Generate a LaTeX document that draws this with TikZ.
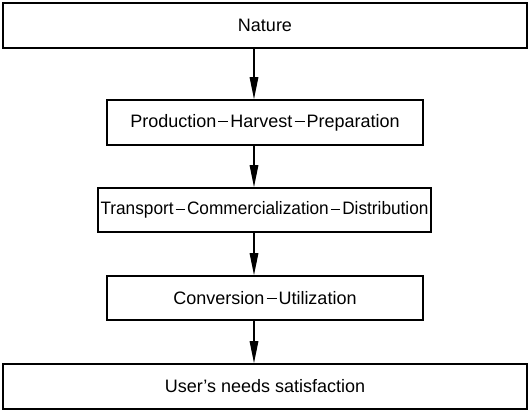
\documentclass[tikz,border=0pt]{standalone}
\usepackage{fontspec}
\usepackage{graphicx}
\setmainfont{Liberation Sans}
\usetikzlibrary{arrows.meta}
\newcommand{\dsh}{\kern2pt\rule[5pt]{10pt}{1.05pt}\kern2pt}
\begin{document}
\begin{tikzpicture}[x=1pt,y=-1pt,
  stepbox/.style={draw, line width=1.6pt, rectangle, inner sep=0pt,
    font=\fontsize{18}{21}\selectfont},
  flow/.style={line width=1.5pt, -{Triangle[length=22pt,width=8.5pt]}}]
\useasboundingbox (0,0) rectangle (531,412);
\fill[white] (0,0) rectangle (531,412);
\node[stepbox, minimum width=524pt, minimum height=45pt] (nat) at (265,25.5) {Nature};
\node[stepbox, minimum width=316pt, minimum height=45pt] (prod) at (265,122.5) {Production\dsh Harvest\dsh Preparation};
\node[stepbox, minimum width=333pt, minimum height=44pt] (trans) at (264.5,210) {\resizebox{328pt}{\height}{Transport\dsh Commercialization\dsh Distribution}};
\node[stepbox, minimum width=316pt, minimum height=44pt] (conv) at (265,298) {Conversion\dsh Utilization};
\node[stepbox, minimum width=524pt, minimum height=45pt] (user) at (265,386.5) {User's needs satisfaction};
\coordinate (ax) at (254,0);
\draw[flow] (nat.south -| ax) -- (prod.north -| ax);
\draw[flow] (prod.south -| ax) -- (trans.north -| ax);
\draw[flow] (trans.south -| ax) -- (conv.north -| ax);
\draw[flow] (conv.south -| ax) -- (user.north -| ax);
\end{tikzpicture}
\end{document}
